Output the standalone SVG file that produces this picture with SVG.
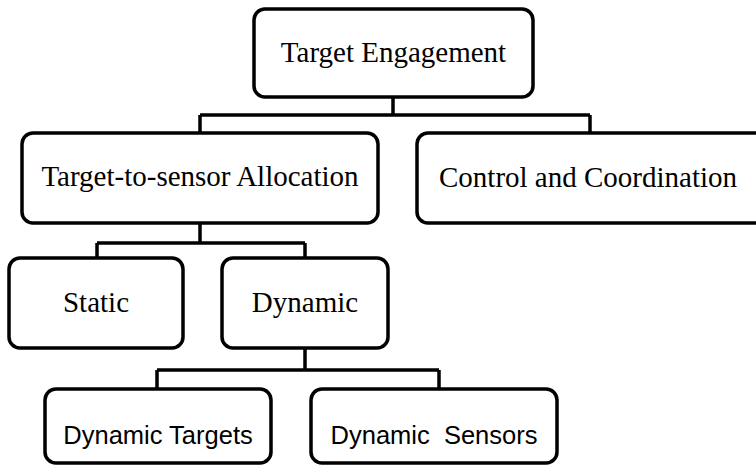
<svg xmlns="http://www.w3.org/2000/svg" width="756" height="473" viewBox="0 0 756 473">
<style>
.box{fill:#fff;stroke:#000;stroke-width:3.5}
.ser{font-family:"Liberation Serif","Times New Roman",serif;font-size:29px;fill:#000}
.san{font-family:"Liberation Sans",Arial,sans-serif;font-size:25.5px;fill:#000}
.c{fill:none;stroke:#000;stroke-width:3.5}
</style>
<rect width="756" height="473" fill="#fff"/>
<g id="connectors">
<path class="c" d="M393 97V115M200 115H590M200 115V133M590 115V133"/>
<path class="c" d="M200 223V243M97 243H305M97 243V258M305 243V258"/>
<path class="c" d="M305 348V370M157 370H439M157 370V389M439 370V389"/>
</g>
<g id="target-engagement">
<rect class="box" x="254" y="9" width="279" height="88" rx="11"/>
<text class="ser" x="393.5" y="62" text-anchor="middle">Target Engagement</text>
</g>
<g id="allocation">
<rect class="box" x="22" y="133" width="356" height="90" rx="11"/>
<text class="ser" x="200" y="186" text-anchor="middle">Target-to-sensor Allocation</text>
</g>
<g id="control">
<rect class="box" x="417" y="133" width="350" height="90" rx="11"/>
<text class="ser" x="439" y="187">Control and Coordination</text>
</g>
<g id="static">
<rect class="box" x="9" y="258" width="174" height="90" rx="11"/>
<text class="ser" x="96" y="312" text-anchor="middle">Static</text>
</g>
<g id="dynamic">
<rect class="box" x="222" y="258" width="166" height="90" rx="11"/>
<text class="ser" x="305" y="312" text-anchor="middle">Dynamic</text>
</g>
<g id="dynamic-targets">
<rect class="box" x="45" y="389" width="226" height="74" rx="11"/>
<text class="san" x="158" y="444" text-anchor="middle">Dynamic Targets</text>
</g>
<g id="dynamic-sensors">
<rect class="box" x="311" y="389" width="246" height="74" rx="11"/>
<text class="san" x="434" y="444" text-anchor="middle" xml:space="preserve">Dynamic  Sensors</text>
</g>
</svg>
